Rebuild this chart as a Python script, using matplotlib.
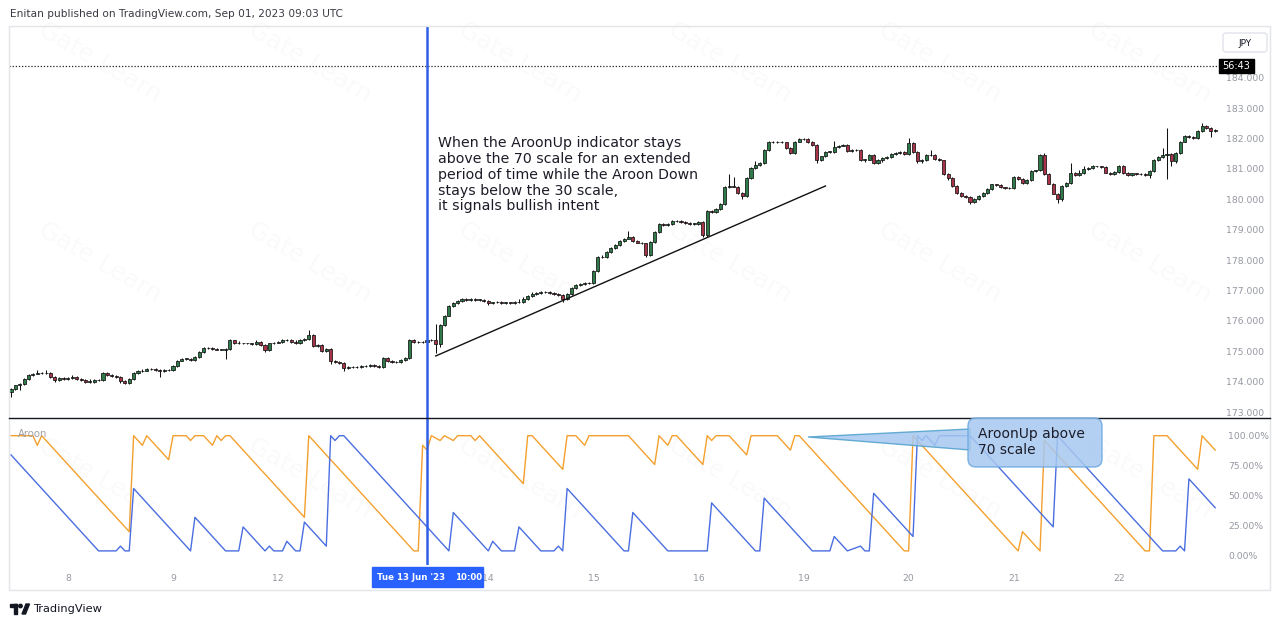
import matplotlib
matplotlib.use('Agg')
import numpy as np
import matplotlib.pyplot as plt
from matplotlib.patches import Rectangle, FancyBboxPatch, Polygon, Circle
from matplotlib.transforms import Affine2D

# hourly USD/JPY candles, 7 Jun 11:00 -> 22 Jun 22:00 (bar index 0..275)
first_open = 173.65
closes = [
    173.78, 173.88, 173.93, 174.08, 174.22, 174.27, 174.29, 174.28, 174.30, 174.17, 174.05, 174.12, 174.10,
    174.12, 174.15, 174.10, 174.06, 174.00, 174.00, 174.05, 174.07, 174.30, 174.22, 174.18, 174.16,
    174.02, 173.95, 174.10, 174.28, 174.35, 174.37, 174.42, 174.42, 174.40, 174.35, 174.38, 174.40,
    174.52, 174.70, 174.76, 174.76, 174.72, 174.82, 174.99, 175.10, 175.10, 175.08, 175.06, 175.06,
    175.08, 175.36, 175.28, 175.26, 175.26, 175.26, 175.24, 175.32, 175.22, 175.04, 175.26, 175.29,
    175.32, 175.37, 175.37, 175.32, 175.26, 175.37, 175.40, 175.55, 175.18, 175.21, 175.02, 175.08,
    174.70, 174.65, 174.61, 174.45, 174.48, 174.50, 174.48, 174.52, 174.51, 174.54, 174.52, 174.48,
    174.78, 174.68, 174.65, 174.66, 174.72, 174.78, 175.37, 175.30, 175.32, 175.30, 175.36, 175.38,
    175.25, 175.86, 176.18, 176.50, 176.58, 176.66, 176.72, 176.70, 176.72, 176.70, 176.70, 176.66,
    176.58, 176.61, 176.62, 176.60, 176.61, 176.60, 176.62, 176.63, 176.72, 176.83, 176.88, 176.93,
    176.94, 176.96, 176.91, 176.88, 176.86, 176.72, 176.88, 177.08, 177.18, 177.22, 177.26, 177.25,
    177.64, 178.12, 178.10, 178.28, 178.39, 178.50, 178.64, 178.71, 178.77, 178.62, 178.58, 178.55,
    178.18, 178.61, 178.93, 179.20, 179.15, 179.18, 179.29, 179.28, 179.25, 179.22, 179.20, 179.20,
    179.25, 178.82, 179.63, 179.58, 179.68, 179.85, 180.39, 180.44, 180.42, 180.22, 180.12, 180.71,
    181.03, 181.14, 181.20, 181.63, 181.90, 181.88, 181.90, 181.87, 181.68, 181.52, 181.90, 181.98,
    182.00, 181.88, 181.80, 181.30, 181.41, 181.57, 181.57, 181.73, 181.77, 181.79, 181.60, 181.63,
    181.62, 181.30, 181.31, 181.45, 181.20, 181.30, 181.35, 181.38, 181.48, 181.52, 181.55, 181.50,
    181.84, 181.57, 181.25, 181.30, 181.46, 181.47, 181.32, 181.28, 180.82, 180.71, 180.44, 180.22,
    180.12, 180.07, 179.90, 180.00, 180.12, 180.21, 180.33, 180.49, 180.47, 180.39, 180.37, 180.38,
    180.73, 180.68, 180.55, 180.64, 180.92, 180.95, 181.46, 180.82, 180.52, 180.19, 180.01, 180.44,
    180.55, 180.87, 180.80, 180.86, 181.01, 181.03, 181.08, 181.08, 181.06, 180.88, 180.84, 180.90,
    181.11, 180.87, 180.80, 180.85, 180.83, 180.82, 180.80, 180.92, 181.30, 181.40, 181.46, 181.50,
    181.27, 181.52, 181.90, 182.09, 182.05, 182.02, 182.24, 182.40, 182.35, 182.25, 182.27,
]
# wick lengths beyond the body, in 0.01 JPY
hi_wick = [
    3, 3, 4, 3, 4, 3, 10, 4, 8, 3, 3, 3, 4,
    3, 6, 3, 3, 3, 10, 3, 3, 3, 3, 3, 3, 3, 5, 3, 3, 3, 6, 3, 3, 4, 3, 3, 3,
    3, 3, 3, 3, 3, 3, 3, 3, 5, 3, 3, 3, 3, 5, 3, 6, 3, 3, 3, 4, 3, 3, 3, 3,
    3, 3, 3, 3, 4, 3, 3, 17, 3, 3, 3, 3, 3, 3, 3, 3, 3, 3, 3, 3, 3, 3, 3, 3,
    3, 3, 3, 3, 3, 3, 5, 3, 3, 3, 5, 3, 52, 3, 3, 3, 5, 3, 4, 3, 3, 3, 3, 3,
    3, 3, 3, 3, 3, 3, 3, 8, 6, 3, 8, 3, 3, 3, 3, 3, 3, 3, 3, 3, 3, 3, 3, 3,
    3, 3, 6, 3, 3, 3, 3, 3, 20, 3, 3, 3, 3, 3, 3, 3, 3, 3, 3, 3, 3, 3, 3, 3,
    3, 3, 3, 3, 3, 3, 5, 38, 30, 3, 3, 3, 3, 12, 3, 3, 3, 3, 3, 3, 3, 3, 3, 3,
    3, 3, 3, 3, 3, 3, 3, 20, 3, 3, 3, 3, 3, 3, 3, 3, 3, 3, 3, 3, 3, 3, 3, 3,
    18, 3, 3, 3, 3, 16, 3, 3, 3, 3, 3, 3, 3, 3, 3, 3, 3, 3, 3, 3, 3, 3, 3, 3,
    3, 3, 3, 3, 3, 3, 3, 6, 3, 3, 3, 3, 3, 33, 3, 12, 10, 3, 6, 3, 3, 3, 3, 3,
    3, 3, 3, 3, 3, 3, 3, 3, 3, 3, 22, 83, 3, 3, 3, 3, 3, 3, 3, 10, 3, 3, 3,
]
lo_wick = [
    15, 4, 15, 3, 3, 3, 2, 3, 2, 3, 6, 3, 3,
    3, 3, 3, 3, 5, 3, 3, 3, 5, 3, 3, 3, 5, 3, 3, 3, 3, 3, 3, 3, 3, 20, 3, 3,
    3, 3, 3, 3, 3, 3, 3, 3, 3, 3, 3, 3, 30, 3, 3, 3, 3, 3, 3, 3, 3, 6, 3, 3,
    3, 3, 3, 3, 3, 3, 3, 3, 3, 3, 5, 3, 10, 3, 3, 10, 3, 3, 3, 3, 3, 3, 3, 3,
    3, 3, 3, 3, 3, 3, 3, 3, 3, 3, 3, 3, 30, 10, 3, 3, 3, 3, 3, 3, 3, 3, 3, 3,
    6, 3, 3, 3, 3, 3, 3, 3, 3, 3, 3, 3, 3, 3, 3, 3, 3, 8, 3, 3, 3, 3, 3, 3,
    3, 3, 3, 3, 3, 3, 3, 3, 3, 3, 3, 3, 8, 3, 3, 3, 3, 3, 3, 3, 3, 3, 3, 3,
    3, 6, 5, 3, 3, 3, 3, 3, 3, 3, 12, 3, 3, 3, 3, 3, 3, 3, 3, 3, 3, 3, 3, 3,
    3, 3, 3, 10, 3, 3, 3, 3, 3, 3, 3, 3, 3, 3, 6, 3, 3, 3, 8, 3, 3, 3, 3, 3,
    3, 3, 5, 6, 3, 3, 3, 3, 3, 8, 3, 3, 3, 3, 6, 3, 3, 3, 3, 3, 3, 3, 3, 3,
    3, 3, 3, 3, 3, 3, 3, 3, 3, 3, 14, 5, 3, 3, 3, 3, 3, 3, 3, 3, 3, 3, 3, 3,
    3, 3, 3, 3, 3, 3, 3, 10, 3, 3, 3, 79, 18, 6, 3, 3, 3, 3, 3, 3, 3, 19, 3,
]

# Aroon turning points (bar index, %)
up_idx = [0, 5, 6, 7, 27, 28, 30, 31, 36, 37, 40, 41, 42, 44, 46, 47, 48, 49, 50, 67,
          68, 92, 93, 94, 95, 96, 98, 99, 101, 102, 105, 106, 107, 117, 118, 119, 126, 127, 129, 131,
          132, 141, 147, 148, 150, 151, 152, 158, 159, 160, 161, 164, 168, 169, 175, 178, 179, 180, 204, 205,
          206, 230, 231, 235, 236, 259, 260, 261, 264, 271, 272, 275]
up_val = [100, 100, 92, 100, 20, 100, 92, 100, 80, 100, 100, 96, 100, 100, 92, 100, 96, 100, 100, 32,
          100, 4, 4, 92, 88, 100, 96, 100, 96, 100, 100, 96, 100, 60, 100, 100, 72, 100, 100, 92,
          100, 100, 76, 100, 92, 100, 100, 76, 100, 96, 100, 100, 84, 100, 100, 88, 100, 100, 4, 4,
          100, 4, 20, 4, 96, 4, 4, 100, 100, 72, 100, 88]
down_idx = [0, 20, 24, 25, 26, 27, 28, 41, 42, 49, 52, 53, 58, 59, 60, 62, 63, 65, 66, 67,
            72, 73, 74, 75, 76, 96, 100, 101, 109, 110, 112, 115, 116, 121, 124, 125, 126, 127, 140, 141,
            142, 150, 159, 160, 170, 171, 172, 183, 187, 188, 191, 194, 195, 196, 197, 206, 207, 208, 209, 211,
            212, 219, 238, 239, 263, 266, 267, 268, 269, 275]
down_val = [84, 4, 4, 8, 4, 4, 56, 4, 32, 4, 4, 24, 4, 8, 4, 4, 12, 4, 4, 28,
            8, 100, 96, 100, 100, 20, 4, 36, 4, 12, 4, 4, 24, 4, 4, 8, 4, 56, 4, 4,
            36, 4, 4, 44, 4, 4, 48, 4, 4, 16, 4, 8, 4, 4, 52, 16, 100, 96, 100, 92,
            100, 100, 24, 100, 4, 4, 8, 4, 64, 40]

day_idx = [13, 37, 61, 109, 133, 157, 181, 205, 229, 253]
day_lbl = ['8', '9', '12', '14', '15', '16', '19', '20', '21', '22']
cursor_idx = 95          # Tue 13 Jun '23 10:00
last_price_line = 184.39
trend_x = [97, 186]
trend_y = [174.85, 180.44]

W, H = 1281, 627
fig = plt.figure(figsize=(W / 100, H / 100), dpi=100)
fig.patch.set_facecolor('white')
# pixel coordinates, origin top-left
pix = Affine2D().scale(1 / 100., -1 / 100.).translate(0, H / 100.) + fig.dpi_scale_trans

def box(x0, y0, x1, y1):
    return [x0 / W, 1 - y1 / H, (x1 - x0) / W, (y1 - y0) / H]

# faint watermarks (drawn first, under everything)
for wy in (62, 262, 478):
    for wx in (100, 310, 520, 730, 940, 1150):
        fig.text(wx, wy, 'Gate Learn', transform=pix, fontsize=18, color='#000000', alpha=0.025,
                 rotation=-30, ha='center', va='center', zorder=-1)

ax1 = fig.add_axes(box(9, 26, 1220, 418))
ax2 = fig.add_axes(box(9, 418, 1220, 565))
for a in (ax1, ax2):
    a.set_facecolor('none')
    for s in a.spines.values():
        s.set_visible(False)
    a.set_xlim(-0.46, 276.1)

# candles
c = np.array(closes)
o = np.r_[first_open, c[:-1]]
top = np.maximum(o, c)
bot = np.minimum(o, c)
hi = top + np.array(hi_wick) / 100
lo = bot - np.array(lo_wick) / 100
x = np.arange(len(c))
up = c >= o
ax1.vlines(x, lo, hi, color='#111111', lw=0.75, zorder=2)
ax1.bar(x, np.maximum(top - bot, 0.014), bottom=bot, width=0.7,
        color=np.where(up, '#2e7a48', '#a8344a'), edgecolor='#111111', linewidth=0.55, zorder=3)

ax1.set_ylim(172.81, 185.70)
ax1.yaxis.tick_right()
ax1.set_yticks(range(173, 185))
ax1.set_yticklabels([f'{v:.3f}' for v in range(173, 185)])
ax1.tick_params(axis='y', length=0, pad=4, labelsize=6.7, labelcolor='#9598a1')
ax1.set_xticks([])
ax1.axhline(last_price_line, color='#222222', lw=0.9, ls=(0, (1, 1.5)), zorder=1)
ax1.plot(trend_x, trend_y, color='#111111', lw=1.0, zorder=4)
ax1.axvline(cursor_idx, color='#2f5fe6', lw=1.8, zorder=5)

fig.text(438, 136,
         'When the AroonUp indicator stays\nabove the 70 scale for an extended\n'
         'period of time while the Aroon Down\nstays below the 30 scale,\nit signals bullish intent',
         transform=pix, fontsize=10.2, color='#1c1c28', va='top', ha='left', linespacing=1.17, zorder=6)

# Aroon pane
ax2.plot(up_idx, up_val, color='#f4a02e', lw=1.0, zorder=2)
ax2.plot(down_idx, down_val, color='#4a6ee0', lw=1.0, zorder=2)
ax2.axvline(cursor_idx, color='#2f5fe6', lw=1.8, zorder=5)
ax2.set_ylim(-7.75, 114.75)
ax2.yaxis.tick_right()
ax2.set_yticks([0, 25, 50, 75, 100])
ax2.set_yticklabels(['0.00%', '25.00%', '50.00%', '75.00%', '100.00%'])
ax2.tick_params(axis='y', length=0, pad=6, labelsize=6.7, labelcolor='#9598a1')
ax2.set_xticks(day_idx)
ax2.set_xticklabels(day_lbl)
ax2.tick_params(axis='x', length=0, pad=6.5, labelsize=6.7, labelcolor='#9598a1')
fig.text(18, 434, 'Aroon', transform=pix, fontsize=7.3, color='#a0a0a8', va='center')

# frame, separator, header, footer
fig.add_artist(Rectangle((9, 26), 1261, 564, fill=False, edgecolor='#e3e5ea', lw=1, transform=pix))
fig.add_artist(plt.Line2D([9, 1270], [418, 418], color='#131722', lw=1, transform=pix))
fig.text(10, 14, 'Enitan published on TradingView.com, Sep 01, 2023 09:03 UTC',
         transform=pix, fontsize=7.6, color='#3a3a44', va='center')
fig.text(33, 609, 'TradingView', transform=pix, fontsize=8.2, color='#131722', va='center')
fig.add_artist(Rectangle((10, 604), 7, 3, color='#131722', transform=pix))
fig.add_artist(Rectangle((13.5, 604), 3.5, 10, color='#131722', transform=pix))
fig.add_artist(Circle((20.5, 606), 1.7, color='#131722', transform=pix))
fig.add_artist(Polygon([(22, 614), (26, 604), (29.5, 604), (25.5, 614)], color='#131722', transform=pix))

# price scale boxes
fig.add_artist(FancyBboxPatch((1223, 33), 44, 19, boxstyle='round,pad=0,rounding_size=3',
                              facecolor='white', edgecolor='#e0e3eb', lw=1, transform=pix))
fig.text(1245, 43, 'JPY', transform=pix, fontsize=6.5, color='#131722', ha='center', va='center')
fig.add_artist(Rectangle((1219, 59), 35, 14, color='#000000', transform=pix))
fig.text(1236.5, 66, '56:43', transform=pix, fontsize=7, color='white', ha='center', va='center')

# cursor time label
fig.add_artist(Rectangle((372, 567), 111, 20, color='#2962ff', transform=pix, zorder=5))
fig.text(377, 577.5, "Tue 13 Jun '23", transform=pix, fontsize=6.2, color='white',
         va='center', fontweight='bold', zorder=6)
fig.text(455, 577.5, '10:00', transform=pix, fontsize=6.2, color='white',
         va='center', fontweight='bold', zorder=6)

# callout
fig.add_artist(Polygon([(808, 437), (970, 429), (970, 450)], closed=True, facecolor='#a6c8f0',
                       edgecolor='#4fa0cc', lw=1, alpha=0.85, transform=pix, zorder=4))
fig.add_artist(FancyBboxPatch((968, 418), 134, 49, boxstyle='round,pad=0,rounding_size=8',
                              facecolor='#a6c8f0', edgecolor='#6aa6e0', lw=1, alpha=0.85,
                              transform=pix, zorder=4))
fig.text(978, 442, 'AroonUp above\n70 scale', transform=pix, fontsize=10, color='#1c1c28',
         va='center', ha='left', linespacing=1.15, zorder=6)

fig.savefig('out.png', dpi=100, facecolor='white')
